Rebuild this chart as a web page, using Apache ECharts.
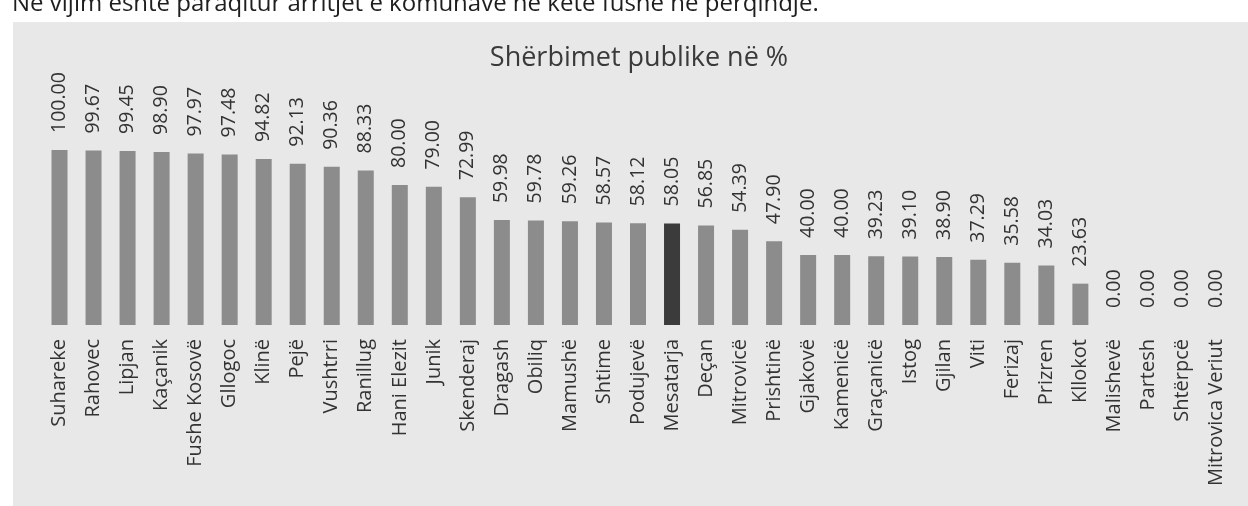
<!DOCTYPE html>
<html>
<head>
<meta charset="utf-8">
<script src="https://cdn.jsdelivr.net/npm/echarts@6/dist/echarts.min.js"></script>
<style>
html,body{margin:0;padding:0;background:#fff;}
#c{width:1248px;height:506px;}
</style>
</head>
<body>
<div id="c"></div>
<script>
const introText = 'Në vijim është paraqitur arritjet e komunave në këtë fushë në përqindje.';
const chartTitle = 'Shërbimet publike në %';
const categories = ['Suhareke','Rahovec','Lipjan','Kaçanik','Fushe Kosovë','Gllogoc','Klinë','Pejë','Vushtrri','Ranillug','Hani Elezit','Junik','Skenderaj','Dragash','Obiliq','Mamushë','Shtime','Podujevë','Mesatarja','Deçan','Mitrovicë','Prishtinë','Gjakovë','Kamenicë','Graçanicë','Istog','Gjilan','Viti','Ferizaj','Prizren','Kllokot','Malishevë','Partesh','Shtërpcë','Mitrovica Veriut'];
const values = [100.00,99.67,99.45,98.90,97.97,97.48,94.82,92.13,90.36,88.33,80.00,79.00,72.99,59.98,59.78,59.26,58.57,58.12,58.05,56.85,54.39,47.90,40.00,40.00,39.23,39.10,38.90,37.29,35.58,34.03,23.63,0.00,0.00,0.00,0.00];
const highlight = 'Mesatarja';

const FONT = '"Open Sans", sans-serif';
const chart = echarts.init(document.getElementById('c'), null, {renderer:'canvas'});
chart.setOption({
  animation:false,
  backgroundColor:'#ffffff',
  graphic:[
    {type:'rect', z:-10, shape:{x:13,y:22,width:1235,height:484}, style:{fill:'#e8e8e8'}},
    {type:'text', z:10, x:12, y:4, style:{text:introText, font:'24px '+FONT, fill:'#1e1e1e', verticalAlign:'middle'}},
    {type:'text', z:10, x:639, y:58, style:{text:chartTitle, font:'27px '+FONT, fill:'#3a3a3a', align:'center', verticalAlign:'middle'}}
  ],
  grid:{left:42.5, right:14.5, top:150, bottom:181, containLabel:false},
  xAxis:{type:'category', data:categories,
    axisLine:{show:false}, axisTick:{show:false},
    axisLabel:{rotate:90, interval:0, margin:14, fontFamily:FONT, fontSize:20, color:'#333333'}},
  yAxis:{type:'value', min:0, max:100, show:false, splitLine:{show:false}},
  series:[{type:'bar', barWidth:16,
    data: values.map((v,i)=>({value:v, itemStyle:{color: categories[i]===highlight ? '#3b3b3b' : '#8c8c8c'}})),
    label:{show:true, position:'top', rotate:90, align:'left', verticalAlign:'middle', distance:17,
      fontFamily:FONT, fontSize:19.5, color:'#333333', formatter:p=>p.value.toFixed(2)}
  }]
});
</script>
</body>
</html>
